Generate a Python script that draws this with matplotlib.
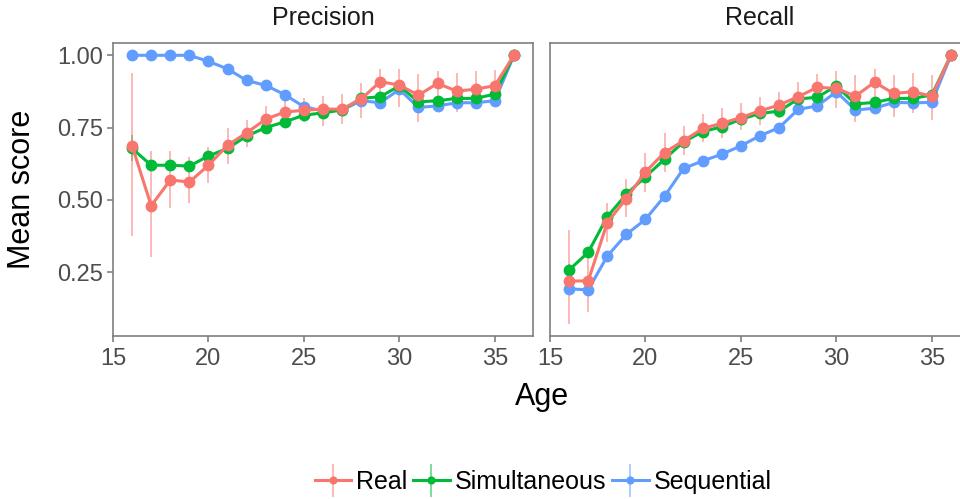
import matplotlib
matplotlib.use("Agg")
import matplotlib.pyplot as plt
import numpy as np
from matplotlib.container import ErrorbarContainer
from matplotlib.legend_handler import HandlerErrorbar

plt.rcParams['font.family'] = ['Liberation Sans', 'DejaVu Sans']

ages = list(range(16, 37))
panels = ["Precision", "Recall"]
series = ["Real", "Simultaneous", "Sequential"]
colors = {"Real": "#F8766D", "Simultaneous": "#00BA38", "Sequential": "#619CFF"}

# Precision
prec_real = [0.687, 0.480, 0.569, 0.562, 0.620, 0.689, 0.732, 0.779, 0.804, 0.810, 0.814,
             0.814, 0.849, 0.909, 0.897, 0.862, 0.903, 0.876, 0.883, 0.895, 1.000]
prec_real_lo = [0.376, 0.303, 0.471, 0.488, 0.557, 0.626, 0.684, 0.736, 0.760, 0.770, 0.756,
                0.762, 0.785, 0.857, 0.822, 0.770, 0.826, 0.805, 0.822, 0.834, 1.000]
prec_real_hi = [0.938, 0.669, 0.669, 0.649, 0.684, 0.750, 0.778, 0.825, 0.848, 0.851, 0.859,
                0.866, 0.903, 0.952, 0.952, 0.935, 0.946, 0.940, 0.946, 0.949, 1.000]
prec_sim = [0.678, 0.620, 0.620, 0.617, 0.652, 0.678, 0.721, 0.750, 0.770, 0.793, 0.801,
            0.811, 0.851, 0.857, 0.894, 0.839, 0.843, 0.851, 0.851, 0.866, 1.000]
prec_sim_err = [0.045, 0.010, 0.008, 0.008, 0.008, 0.008, 0.006, 0.006, 0.006, 0.006, 0.006,
                0.006, 0.006, 0.006, 0.006, 0.006, 0.006, 0.006, 0.006, 0.006, 0.000]
prec_seq = [1.000, 1.000, 1.000, 1.000, 0.979, 0.953, 0.913, 0.896, 0.864, 0.822, 0.808,
            0.811, 0.843, 0.836, 0.882, 0.820, 0.825, 0.836, 0.836, 0.843, 1.000]
prec_seq_err = [0.000, 0.000, 0.000, 0.000, 0.002, 0.002, 0.002, 0.002, 0.002, 0.002, 0.002,
                0.002, 0.002, 0.002, 0.002, 0.002, 0.002, 0.002, 0.002, 0.002, 0.000]

# Recall
rec_real = [0.220, 0.220, 0.422, 0.505, 0.597, 0.664, 0.705, 0.747, 0.765, 0.785, 0.808,
            0.828, 0.857, 0.889, 0.886, 0.859, 0.907, 0.868, 0.874, 0.859, 1.000]
rec_real_lo = [0.071, 0.114, 0.353, 0.442, 0.526, 0.597, 0.655, 0.701, 0.713, 0.742, 0.759,
               0.782, 0.811, 0.839, 0.817, 0.770, 0.857, 0.788, 0.799, 0.776, 1.000]
rec_real_hi = [0.396, 0.327, 0.488, 0.571, 0.664, 0.730, 0.756, 0.796, 0.817, 0.834, 0.857,
               0.872, 0.907, 0.934, 0.947, 0.932, 0.953, 0.932, 0.940, 0.932, 1.000]
rec_sim = [0.258, 0.319, 0.442, 0.520, 0.580, 0.641, 0.701, 0.736, 0.753, 0.779, 0.799,
           0.807, 0.849, 0.855, 0.894, 0.832, 0.837, 0.851, 0.851, 0.863, 1.000]
rec_sim_err = [0.020, 0.018, 0.010, 0.008, 0.008, 0.008, 0.006, 0.006, 0.006, 0.006, 0.006,
               0.006, 0.006, 0.006, 0.006, 0.006, 0.006, 0.006, 0.006, 0.006, 0.000]
rec_seq = [0.193, 0.189, 0.306, 0.381, 0.433, 0.513, 0.609, 0.635, 0.658, 0.687, 0.722,
           0.750, 0.813, 0.825, 0.874, 0.811, 0.817, 0.837, 0.836, 0.837, 1.000]
rec_seq_err = [0.002, 0.002, 0.002, 0.002, 0.002, 0.002, 0.002, 0.002, 0.002, 0.002, 0.002,
               0.002, 0.002, 0.002, 0.002, 0.002, 0.002, 0.002, 0.002, 0.002, 0.000]

xticks = [15, 20, 25, 30, 35]
yticks = [0.25, 0.50, 0.75, 1.00]
ytick_labels = ["0.25", "0.50", "0.75", "1.00"]

data = {
    "Precision": {
        "Real": (prec_real, [np.array(prec_real) - np.array(prec_real_lo), np.array(prec_real_hi) - np.array(prec_real)]),
        "Simultaneous": (prec_sim, prec_sim_err),
        "Sequential": (prec_seq, prec_seq_err),
    },
    "Recall": {
        "Real": (rec_real, [np.array(rec_real) - np.array(rec_real_lo), np.array(rec_real_hi) - np.array(rec_real)]),
        "Simultaneous": (rec_sim, rec_sim_err),
        "Sequential": (rec_seq, rec_seq_err),
    },
}

W, H = 960, 499
fig = plt.figure(figsize=(W / 100, H / 100), dpi=100)

def frac(x0, y0, x1, y1):
    return [x0 / W, 1 - y1 / H, (x1 - x0) / W, (y1 - y0) / H]

axes = [fig.add_axes(frac(113, 43, 533, 336)), fig.add_axes(frac(550, 43, 970, 336))]
grey = "#7F7F7F"
handles = {}
for ax, panel in zip(axes, panels):
    for s in ["Sequential", "Simultaneous", "Real"]:
        y, err = data[panel][s]
        c = colors[s]
        rgba = matplotlib.colors.to_rgba(c, 0.6)
        h = ax.errorbar(ages, y, yerr=err, color=c, ecolor=rgba, elinewidth=1.2,
                        lw=2.2, marker='o', ms=7.5, capsize=0, label=s)
        handles[s] = h
    ax.set_xlim(15, 37)
    ax.set_ylim(0.0298, 1.0425)
    ax.set_xticks(xticks)
    ax.set_yticks(yticks)
    for sp in ax.spines.values():
        sp.set_color(grey)
        sp.set_linewidth(1.2)
    ax.tick_params(axis='both', colors=grey, length=4.5, width=1.2, labelsize=17,
                   labelcolor="#4D4D4D")
    ax.tick_params(axis='x', pad=4)
    ax.tick_params(axis='y', pad=2.5)
    ax.set_xticklabels([str(t) for t in xticks])

axes[0].set_yticklabels(ytick_labels)
axes[1].tick_params(axis='y', left=False, labelleft=False)

fig.text(323 / W, 1 - 18 / H, "Precision", ha='center', va='center', fontsize=18, color="#1A1A1A")
fig.text(760 / W, 1 - 18 / H, "Recall", ha='center', va='center', fontsize=18, color="#1A1A1A")
fig.text(22 / W, 1 - 189.5 / H, "Mean score", rotation=90, ha='center', va='center', fontsize=22)
fig.text(541.7 / W, 1 - 405 / H, "Age", ha='center', va='baseline', fontsize=22)

leg = fig.legend([handles[s] for s in series], series, loc='center',
                 bbox_to_anchor=(543 / W, 1 - 482 / H), ncol=3, frameon=False,
                 fontsize=18, handlelength=1.45, handletextpad=0.2, columnspacing=0.25,
                 markerscale=0.65,
                 handler_map={ErrorbarContainer: HandlerErrorbar(yerr_size=0.66)})

fig.savefig("out.png", dpi=100)
